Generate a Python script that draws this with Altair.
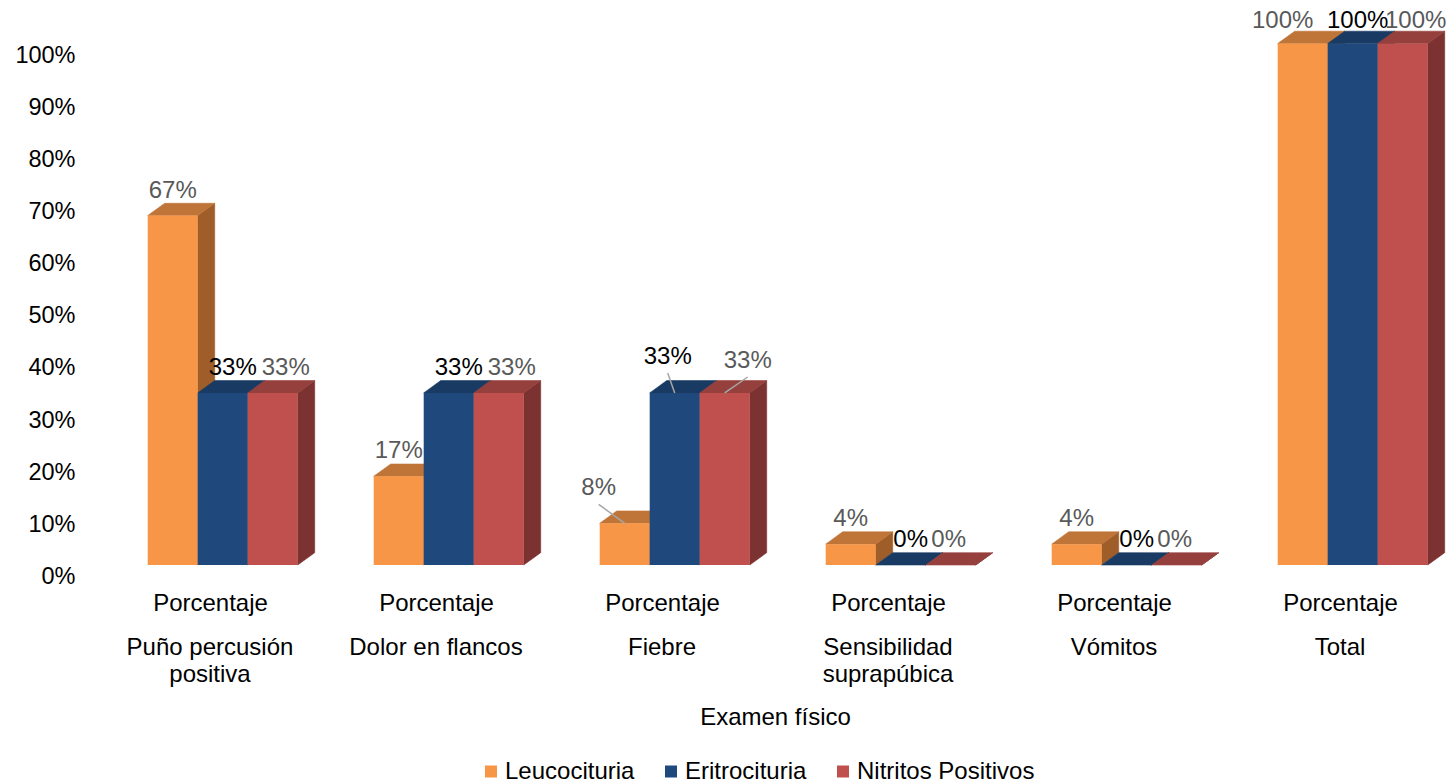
import altair as alt
import pandas as pd

# ---------------- data ----------------
categories = ["Puño percusión\npositiva", "Dolor en flancos", "Fiebre",
              "Sensibilidad\nsuprapúbica", "Vómitos", "Total"]
series = ["Leucocituria", "Eritrocituria", "Nitritos Positivos"]
leucocituria = [67, 17, 8, 4, 4, 100]
eritrocituria = [33, 33, 33, 0, 0, 100]
nitritos = [33, 33, 33, 0, 0, 100]
x_tick_label = "Porcentaje"
y_ticks = [0, 10, 20, 30, 40, 50, 60, 70, 80, 90, 100]

# ---------------- style ----------------
front_colors = ["#F79646", "#1F497D", "#C0504D"]
top_colors = ["#BF7438", "#193B63", "#96403D"]
side_colors = ["#9E5D29", "#163456", "#7B3230"]
label_colors = ["#595959", "#000000", "#595959"]
label_dx = [0, 10, 13]          # default label shift per series (px)
# manual label nudges (px) as placed in the original, keyed by (group, series)
label_nudge = {(2, 0): (-26, -10), (2, 1): (-17, -11), (2, 2): (10, -7),
               (3, 2): (-15, 0), (4, 2): (-15, 0),
               (5, 0): (-20, 2), (5, 1): (-5, 2), (5, 2): (0, 2)}
leader_groups = {2}             # groups whose labels carry a leader line
FONT = "Liberation Sans"
FS = 24
LABEL_DY = -(12.3 + 12.6)

W, H = 1356, 521.5          # plot area
PX_X = W / 6.0              # pixels per group unit
PX_Y = H / 100.0            # pixels per percent
BAR_W = 50.0 / PX_X
BAR_START = 50.7 / PX_X
DX = 17.0 / PX_X
DY = 12.3 / PX_Y

values = [leucocituria, eritrocituria, nitritos]

front_rows, face_rows, label_rows, leader_rows = [], [], [], []
for g, cat in enumerate(categories):
    for s, name in enumerate(series):
        v = values[s][g]
        x0 = g + BAR_START + s * BAR_W
        x1 = x0 + BAR_W
        front_rows.append(dict(series=name, x0=x0, x1=x1, v=v, zero=0))
        fid = f"{g}-{s}"
        for px, ya, yb in [(x0, v, v), (x0 + DX, v, v + DY),
                           (x1, v, v + DY), (x1 + DX, v + DY, v + DY)]:
            face_rows.append(dict(face="top", fid=fid + "t", x=px, ya=ya, yb=yb,
                                  fill=top_colors[s]))
        for px, ya, yb in [(x1, 0, v), (x1 + DX, DY, v + DY)]:
            face_rows.append(dict(face="side", fid=fid + "s", x=px, ya=ya, yb=yb,
                                  fill=side_colors[s]))
        xc = (x0 + x1) / 2
        nx, ny = label_nudge.get((g, s), (0, 0))
        lx = xc + (label_dx[s] + nx) / PX_X
        ly = v + (-(LABEL_DY + ny)) / PX_Y
        label_rows.append(dict(series=name, s=s, lx=lx, ly=ly, txt=f"{v}%"))
        if g in leader_groups:
            leader_rows.append(dict(xa=lx, ya=ly - 16 / PX_Y, xb=xc, yb=v))

front_df = pd.DataFrame(front_rows)
face_df = pd.DataFrame(face_rows)
label_df = pd.DataFrame(label_rows)
leader_df = pd.DataFrame(leader_rows)
cat_df = pd.DataFrame(dict(cat=categories, xc=[g + 0.5 for g in range(len(categories))]))

xscale = alt.Scale(domain=[0, 6], nice=False, zero=False)
yscale = alt.Scale(domain=[0, 100], nice=False)

x_axis = alt.Axis(values=[g + 0.5 for g in range(6)], labelExpr=f"'{x_tick_label}'",
                  domain=False, ticks=False, tickSize=0, grid=False,
                  labelFontSize=FS, labelColor="#000000", labelPadding=26,
                  labelFont=FONT,
                  title="Examen físico", titleFontSize=FS, titleFontWeight="normal",
                  titleFont=FONT,
                  titleColor="#000000", titleY=152, titleBaseline="middle")
y_axis = alt.Axis(values=y_ticks, labelExpr="datum.value + '%'", domain=False,
                  ticks=False, tickSize=0, grid=False, labelFontSize=23.5,
                  labelFont=FONT,
                  labelColor="#000000", labelPadding=22, labelOffset=11.5, title=None)

sides = alt.Chart(face_df[face_df.face == "side"]).mark_area(strokeWidth=0.6).encode(
    x=alt.X("x:Q", scale=xscale, axis=x_axis),
    y=alt.Y("ya:Q", scale=yscale, axis=y_axis, stack=None),
    y2="yb:Q",
    detail="fid:N",
    color=alt.Color("fill:N", scale=None),
    stroke=alt.Stroke("fill:N", scale=None),
)
tops = alt.Chart(face_df[face_df.face == "top"]).mark_area(strokeWidth=0.6).encode(
    x=alt.X("x:Q", scale=xscale),
    y=alt.Y("ya:Q", scale=yscale, stack=None),
    y2="yb:Q",
    detail="fid:N",
    color=alt.Color("fill:N", scale=None),
    stroke=alt.Stroke("fill:N", scale=None),
)
fronts = alt.Chart(front_df).mark_rect().encode(
    x=alt.X("x0:Q", scale=xscale),
    x2="x1:Q",
    y=alt.Y("v:Q", scale=yscale),
    y2="zero:Q",
    color=alt.Color("series:N", scale=alt.Scale(domain=series, range=front_colors),
                    legend=alt.Legend(orient="none", legendX=382, legendY=716,
                                      direction="horizontal", title=None,
                                      symbolType="square", symbolSize=144,
                                      symbolStrokeWidth=0, labelFontSize=FS,
                                      labelFont=FONT, labelLimit=0,
                                      labelColor="#000000", columnPadding=24,
                                      labelOffset=2)),
)

leaders = alt.Chart(leader_df).mark_rule(color="#A6A6A6", strokeWidth=1.5).encode(
    x=alt.X("xa:Q", scale=xscale),
    y=alt.Y("ya:Q", scale=yscale),
    x2="xb:Q",
    y2="yb:Q",
)

label_layers = []
for s, name in enumerate(series):
    label_layers.append(
        alt.Chart(label_df[label_df.s == s]).mark_text(
            fontSize=FS, color=label_colors[s], baseline="middle", font=FONT
        ).encode(
            x=alt.X("lx:Q", scale=xscale),
            y=alt.Y("ly:Q", scale=yscale),
            text="txt:N",
        )
    )

cat_text = alt.Chart(cat_df).mark_text(
    fontSize=FS, color="#000000", baseline="top", lineBreak="\n", lineHeight=27,
    font=FONT
).encode(
    x=alt.X("xc:Q", scale=xscale),
    y=alt.value(592),
    text="cat:N",
)

chart = alt.layer(sides, tops, fronts, leaders, *label_layers, cat_text).properties(
    width=W, height=H,
    autosize=alt.AutoSizeParams(type="none"),
    padding={"left": 97, "top": 43.5, "right": 1, "bottom": 218},
).configure(font=FONT, view=alt.ViewConfig(stroke=None))

chart.save("out.html", embed_options={"renderer": "svg", "actions": False})
